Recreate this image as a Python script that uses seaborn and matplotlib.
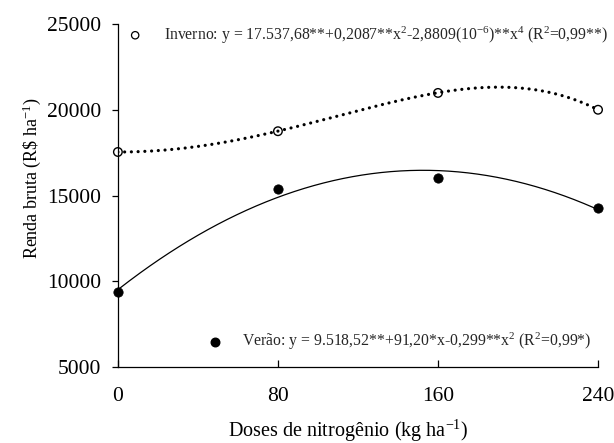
import numpy as np
import pandas as pd
import matplotlib
matplotlib.use("Agg")
import matplotlib.pyplot as plt
import seaborn as sns

# Observed gross income (R$ ha-1) by nitrogen dose (kg ha-1)
doses = [0, 80, 160, 240]
inverno = [17540, 18750, 20980, 20000]
verao = [9400, 15400, 16020, 14280]

# Fitted regression coefficients
inv_coef = {"b0": 17537.68, "b2": 0.2087, "b4": -2.8809e-6}
ver_coef = {"b0": 9518.52, "b1": 91.20, "b2": -0.299}

inv_label = "Inverno: y = 17.537,68**+0,2087**x$^{2}$-2,8809(10$^{-6}$)**x$^{4}$ (R$^{2}$=0,99**)"
ver_label = "Verão: y = 9.518,52**+91,20*x-0,299**x$^{2}$ (R$^{2}$=0,99*)"

yticks = [5000, 10000, 15000, 20000, 25000]
xticks = [0, 80, 160, 240]

sns.set_theme(style="ticks")
plt.rcParams["font.family"] = ["Liberation Serif", "DejaVu Serif"]
plt.rcParams["mathtext.fontset"] = "custom"
plt.rcParams["mathtext.rm"] = "Liberation Serif"
plt.rcParams["mathtext.it"] = "Liberation Serif:italic"

fig = plt.figure(figsize=(6.14, 4.43), dpi=100)
ax = fig.add_axes([0.192, 0.171, 0.782, 0.775])

xs = np.linspace(0, 240, 300)
curves = pd.DataFrame({
    "x": xs,
    "inv": inv_coef["b0"] + inv_coef["b2"] * xs**2 + inv_coef["b4"] * xs**4,
    "ver": ver_coef["b0"] + ver_coef["b1"] * xs + ver_coef["b2"] * xs**2,
})
pts = pd.DataFrame({"dose": doses, "inv": inverno, "ver": verao})

# Fitted curves
sns.lineplot(data=curves, x="x", y="ver", ax=ax, color="black", lw=0.9)
sns.lineplot(data=curves, x="x", y="inv", ax=ax, color="black", lw=2.3)
inv_line = ax.lines[-1]
inv_line.set_dashes((0.01, 2.1))
inv_line.set_dash_capstyle("round")

# Observed means
sns.scatterplot(data=pts, x="dose", y="ver", ax=ax, color="black", s=45,
                edgecolor="black", zorder=4, clip_on=False)
sns.scatterplot(data=pts, x="dose", y="inv", ax=ax, facecolor="none",
                edgecolor="black", linewidth=1.0, s=38, zorder=4, clip_on=False)

# Equations with their symbols
ax.scatter([0.036], [0.967], transform=ax.transAxes, s=28, facecolor="none",
           edgecolor="black", linewidth=0.9, clip_on=False)
ax.text(0.096, 0.967, inv_label, transform=ax.transAxes, fontsize=11.3,
        va="center", ha="left")
ax.scatter([0.202], [0.074], transform=ax.transAxes, s=38, color="black",
           clip_on=False)
ax.text(0.259, 0.074, ver_label, transform=ax.transAxes, fontsize=11.3,
        va="center", ha="left")

ax.set_xlim(0, 240)
ax.set_ylim(5000, 25000)
ax.set_xticks(xticks)
ax.set_yticks(yticks)
ax.set_xticklabels([str(t) for t in xticks])
ax.set_yticklabels([str(t) for t in yticks])
ax.tick_params(axis="y", direction="out", length=4, width=0.9, labelsize=15.5,
               pad=8, colors="black")
ax.tick_params(axis="x", direction="in", length=5, width=0.9, labelsize=15.5,
               pad=14, colors="black")
for side in ["left", "bottom"]:
    ax.spines[side].set_color("black")
    ax.spines[side].set_linewidth(0.9)
sns.despine(ax=ax)

ax.set_xlabel("Doses de nitrogênio (kg ha$^{-1}$)", fontsize=14.5, color="black")
ax.set_ylabel("Renda bruta (R\\$ ha$^{-1}$)", fontsize=13, color="black")
ax.xaxis.set_label_coords(0.48, -0.148)
ax.yaxis.set_label_coords(-0.157, 0.55)

fig.savefig("out.png", dpi=100, facecolor="white")
